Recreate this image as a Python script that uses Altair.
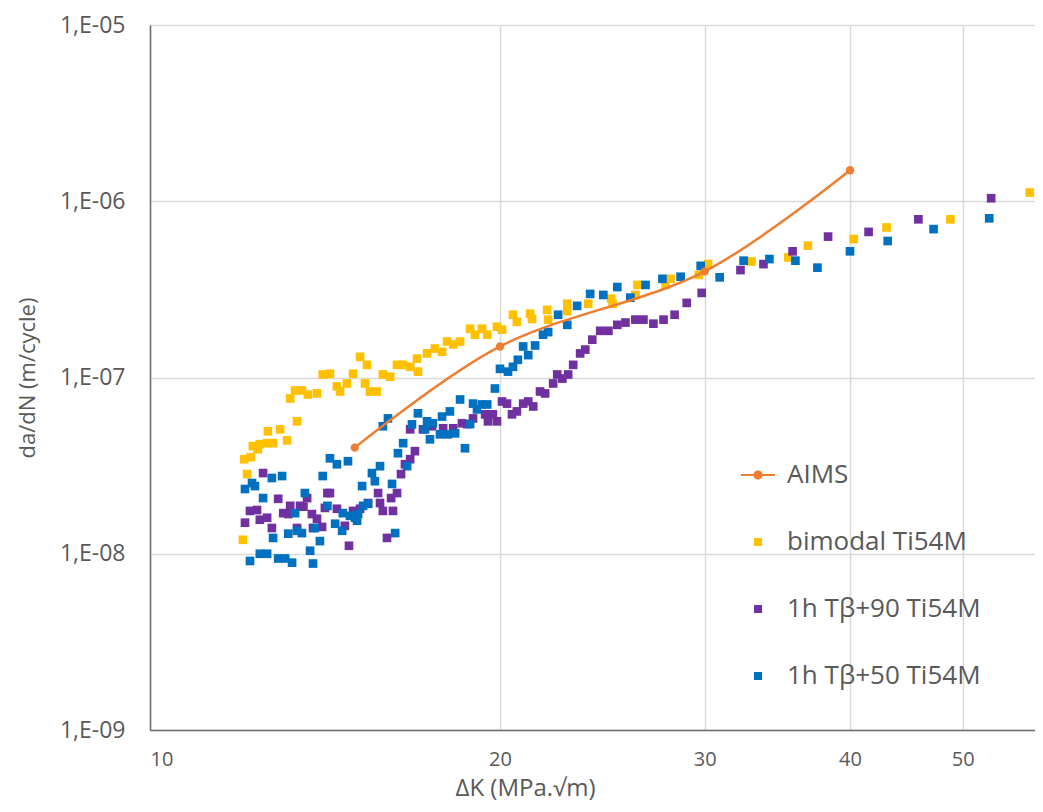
import altair as alt
import pandas as pd

SERIES = ["AIMS", " bimodal Ti54M", "1h Tβ+90 Ti54M", "1h Tβ+50 Ti54M"]
COLORS = ["#ED7D31", "#FFC000", "#7030A0", "#0070C0"]

aims_dk = [15, 20, 30, 40]
aims_dadn = [4.0e-8, 1.5e-7, 4.0e-7, 1.5e-6]

bimodal_dk = [12.02, 12.12, 12.05, 12.21, 12.26, 12.38, 12.43, 12.61, 12.76, 12.63,
              12.94, 13.12, 13.38, 13.20, 13.33, 13.51, 13.67, 13.92, 14.08, 14.28,
              14.48, 14.57, 14.77, 14.95, 15.16, 15.37, 15.31, 15.46, 15.67, 15.86,
              16.09, 16.31, 16.51, 16.74, 16.97, 17.00, 17.31, 17.58, 17.83, 18.01,
              18.23, 18.48, 18.85, 19.03, 19.30, 19.50, 19.88, 20.08, 20.52, 20.68,
              21.23, 21.31, 21.96, 22.00, 22.85, 22.85, 23.82, 24.93, 25.00, 26.26,
              26.15, 27.76, 28.04, 29.65, 30.2, 32.9, 35.4, 36.8, 40.3, 43.0,
              48.8, 57.1]
bimodal_dadn = [1.20e-8, 2.83e-8, 3.44e-8, 3.53e-8, 4.08e-8, 3.92e-8, 4.18e-8, 4.24e-8, 4.24e-8, 4.95e-8,
                5.08e-8, 4.40e-8, 5.64e-8, 7.60e-8, 8.44e-8, 8.44e-8, 8.01e-8, 8.12e-8, 1.04e-7, 1.05e-7,
                8.9e-8, 8.33e-8, 9.25e-8, 1.05e-7, 1.31e-7, 1.18e-7, 9.25e-8, 8.33e-8, 8.33e-8, 1.04e-7,
                1.01e-7, 1.18e-7, 1.18e-7, 1.15e-7, 1.28e-7, 1.08e-7, 1.37e-7, 1.46e-7, 1.40e-7, 1.60e-7,
                1.54e-7, 1.60e-7, 1.89e-7, 1.75e-7, 1.89e-7, 1.75e-7, 1.94e-7, 1.87e-7, 2.27e-7, 2.07e-7,
                2.30e-7, 2.15e-7, 2.42e-7, 2.13e-7, 2.62e-7, 2.38e-7, 2.62e-7, 2.80e-7, 2.62e-7, 3.35e-7,
                2.94e-7, 3.35e-7, 3.63e-7, 3.82e-7, 4.40e-7, 4.55e-7, 4.8e-7, 5.6e-7, 6.1e-7, 7.1e-7,
                7.9e-7, 1.12e-6]

tb90_dk = [12.07, 12.19, 12.36, 12.51, 12.43, 12.61, 12.73, 12.89, 13.02, 13.20,
           13.15, 13.38, 13.46, 13.55, 13.65, 13.78, 13.92, 13.81, 14.06, 14.21,
           14.28, 14.14, 14.48, 14.71, 14.83, 14.95, 15.16, 15.40, 15.71, 15.77,
           15.86, 15.99, 16.18, 16.12, 16.31, 16.44, 16.57, 16.74, 16.90, 16.74,
           17.17, 17.48, 17.87, 18.23, 18.55, 18.74, 18.96, 19.42, 19.53, 19.88,
           19.72, 20.08, 20.28, 20.48, 20.68, 20.94, 21.15, 21.36, 21.65, 21.87,
           22.22, 22.40, 22.63, 22.89, 23.12, 23.44, 23.68, 24.01, 24.39, 24.79,
           25.23, 25.64, 26.15, 26.57, 27.10, 27.65, 28.26, 28.95, 29.82, 32.2,
           33.7, 35.7, 38.3, 41.5, 45.8, 52.9]
tb90_dadn = [1.50e-8, 1.75e-8, 1.77e-8, 2.87e-8, 1.56e-8, 1.60e-8, 1.40e-8, 2.05e-8, 1.70e-8, 1.87e-8,
             1.68e-8, 1.40e-8, 1.87e-8, 1.85e-8, 2.07e-8, 1.68e-8, 1.58e-8, 1.40e-8, 1.42e-8, 2.21e-8,
             2.21e-8, 1.82e-8, 1.80e-8, 1.44e-8, 1.11e-8, 1.75e-8, 1.80e-8, 1.94e-8, 2.21e-8, 1.94e-8,
             1.75e-8, 1.23e-8, 1.75e-8, 2.07e-8, 2.21e-8, 2.83e-8, 3.22e-8, 3.44e-8, 3.82e-8, 5.08e-8,
             5.08e-8, 5.29e-8, 5.15e-8, 5.15e-8, 5.50e-8, 5.44e-8, 5.86e-8, 6.18e-8, 5.64e-8, 5.64e-8,
             6.18e-8, 7.31e-8, 7.11e-8, 6.18e-8, 6.42e-8, 7.11e-8, 7.31e-8, 6.85e-8, 8.33e-8, 8.12e-8,
             9.25e-8, 1.04e-7, 9.86e-8, 1.04e-7, 1.18e-7, 1.37e-7, 1.44e-7, 1.64e-7, 1.84e-7, 1.84e-7,
             1.99e-7, 2.05e-7, 2.13e-7, 2.13e-7, 2.02e-7, 2.13e-7, 2.27e-7, 2.65e-7, 3.02e-7, 4.07e-7,
             4.4e-7, 5.2e-7, 6.3e-7, 6.7e-7, 7.9e-7, 1.04e-6]

tb50_dk = [12.07, 12.24, 12.31, 12.51, 12.73, 12.99, 12.76, 12.19, 12.43, 12.61,
           12.89, 13.07, 13.25, 13.15, 13.38, 13.51, 13.33, 13.59, 13.73, 13.81,
           13.86, 14.00, 14.08, 14.21, 14.28, 14.43, 14.48, 14.63, 14.65, 14.80,
           14.86, 15.01, 15.10, 15.07, 15.22, 15.25, 15.40, 15.52, 15.61, 15.77,
           16.15, 16.25, 16.34, 15.86, 16.02, 16.51, 16.64, 16.80, 17.00, 17.24,
           17.41, 17.31, 17.51, 17.83, 18.11, 17.76, 18.04, 18.30, 18.48, 18.66,
           18.85, 18.96, 19.11, 19.30, 19.50, 19.80, 20.00, 20.32, 20.52, 20.72,
           20.94, 21.15, 21.44, 21.78, 22.00, 22.44, 22.85, 23.30, 23.91, 24.54,
           25.23, 25.89, 26.68, 27.59, 28.60, 29.76, 30.9, 32.4, 34.1, 35.9,
           37.5, 40.0, 43.1, 47.2, 52.7]
tb50_dadn = [2.33e-8, 2.52e-8, 2.42e-8, 2.07e-8, 2.69e-8, 2.76e-8, 1.23e-8, 9.1e-9, 1.0e-8, 1.0e-8,
             9.4e-9, 9.4e-9, 8.9e-9, 1.30e-8, 1.35e-8, 1.31e-8, 1.70e-8, 2.21e-8, 1.04e-8, 8.8e-9,
             1.40e-8, 1.18e-8, 2.76e-8, 1.87e-8, 3.48e-8, 1.48e-8, 3.22e-8, 1.35e-8, 1.70e-8, 3.35e-8,
             1.64e-8, 1.60e-8, 1.68e-8, 1.54e-8, 2.42e-8, 1.87e-8, 1.92e-8, 2.87e-8, 2.58e-8, 3.14e-8,
             2.49e-8, 1.31e-8, 3.72e-8, 5.29e-8, 5.86e-8, 4.24e-8, 3.14e-8, 5.42e-8, 6.26e-8, 5.08e-8,
             4.46e-8, 5.64e-8, 5.50e-8, 6.00e-8, 6.42e-8, 4.76e-8, 4.76e-8, 4.82e-8, 7.50e-8, 3.97e-8,
             5.44e-8, 7.11e-8, 6.59e-8, 7.03e-8, 7.03e-8, 8.66e-8, 1.12e-7, 1.08e-7, 1.15e-7, 1.26e-7,
             1.50e-7, 1.34e-7, 1.52e-7, 1.75e-7, 1.81e-7, 2.27e-7, 1.99e-7, 2.55e-7, 2.98e-7, 2.94e-7,
             3.26e-7, 2.84e-7, 3.35e-7, 3.63e-7, 3.73e-7, 4.30e-7, 3.70e-7, 4.60e-7, 4.70e-7, 4.60e-7,
             4.20e-7, 5.20e-7, 5.95e-7, 6.95e-7, 8.0e-7]

x_ticks = [10, 20, 30, 40, 50]
y_ticks = [1e-9, 1e-8, 1e-7, 1e-6, 1e-5]

scatter = pd.concat([
    pd.DataFrame({"dK": bimodal_dk, "dadN": bimodal_dadn, "series": SERIES[1]}),
    pd.DataFrame({"dK": tb90_dk, "dadN": tb90_dadn, "series": SERIES[2]}),
    pd.DataFrame({"dK": tb50_dk, "dadN": tb50_dadn, "series": SERIES[3]}),
], ignore_index=True)
aims = pd.DataFrame({"dK": aims_dk, "dadN": aims_dadn, "series": SERIES[0]})

FONT = "Open Sans"
GREY = "#595959"
# legend glyph for AIMS: short line with a dot (unit square is [-1, 1])
AIMS_SYMBOL = ("M-4.25,-0.28L4.25,-0.28L4.25,0.28L-4.25,0.28Z "
               "M1.15,0A1.15,1.15,0,1,1,-1.15,0A1.15,1.15,0,1,1,1.15,0Z")

x_enc = alt.X(
    "dK:Q",
    scale=alt.Scale(type="log", domain=[10, 57.7], nice=False),
    axis=alt.Axis(
        values=x_ticks, format="d", title="ΔK (MPa.√m)",
        labelFontSize=20, labelColor=GREY, labelFont=FONT, labelPadding=19,
        ticks=False, grid=True, gridColor="#d9d9d9", gridWidth=1.5,
        domainColor="#6d6d6d", domainWidth=1.5,
        titleFontSize=24, titleFontWeight="normal", titleColor=GREY, titleFont=FONT,
        titlePadding=7, titleX=375,
    ),
)
y_enc = alt.Y(
    "dadN:Q",
    scale=alt.Scale(type="log", domain=[1e-9, 1e-5], nice=False),
    axis=alt.Axis(
        values=y_ticks, labelExpr="'1,E-0' + round(-log(datum.value) / LN10)",
        labelFontSize=23, labelColor=GREY, labelFont=FONT, labelPadding=25,
        ticks=False, grid=True, gridColor="#d9d9d9", gridWidth=1.5,
        domainColor="#6d6d6d", domainWidth=1.5,
        title="da/dN (m/cycle)", titleFontSize=22, titleFontWeight="normal",
        titleColor=GREY, titleFont=FONT, titlePadding=20,
    ),
)

legend_cfg = dict(
    title=None, orient="none", legendX=595, legendY=437, direction="vertical",
    padding=0, rowPadding=41, labelFontSize=26, labelColor=GREY, labelFont=FONT,
    labelOffset=16, symbolSize=64, symbolOffset=0, labelLimit=400,
)

points = alt.Chart(scatter).mark_point(filled=True, size=75, opacity=1).encode(
    x=x_enc,
    y=y_enc,
    color=alt.Color(
        "series:N",
        scale=alt.Scale(domain=SERIES, range=COLORS),
        legend=alt.Legend(**legend_cfg),
    ),
    shape=alt.Shape(
        "series:N",
        scale=alt.Scale(domain=SERIES, range=[AIMS_SYMBOL, "square", "square", "square"]),
        legend=alt.Legend(**legend_cfg),
    ),
    order=alt.Order("idx:Q"),
).transform_window(idx="row_number()")

aims_line = alt.Chart(aims).mark_line(
    color=COLORS[0], strokeWidth=2.5, interpolate="catmull-rom"
).encode(x=x_enc, y=y_enc)

aims_dots = alt.Chart(aims).mark_circle(color=COLORS[0], size=70, opacity=1).encode(
    x=x_enc, y=y_enc
)

chart = alt.layer(points, aims_line, aims_dots).properties(
    width=885,
    height=705,
    autosize="none",
    padding={"left": 142, "top": 17, "right": 0, "bottom": 74},
).configure_view(stroke=None).configure(font=FONT)

chart.save("out.html", embed_options={"renderer": "svg", "actions": False})
